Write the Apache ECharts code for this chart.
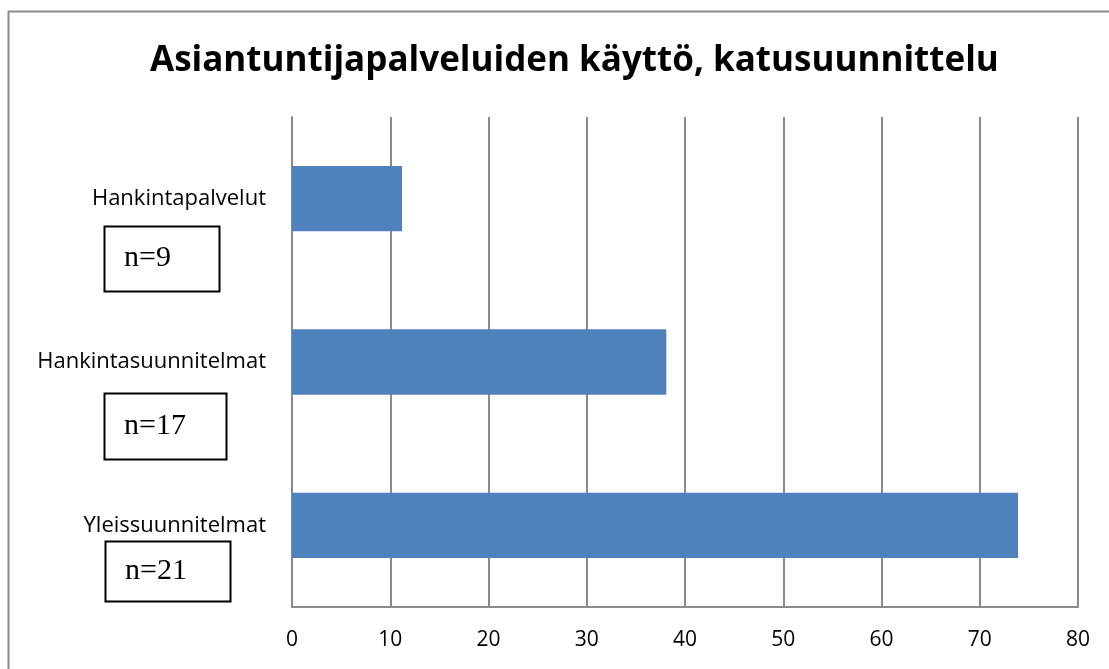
<!DOCTYPE html>
<html>
<head>
<meta charset="utf-8">
<script src="https://cdn.jsdelivr.net/npm/echarts@6/dist/echarts.min.js"></script>
<style>
  html, body { margin: 0; padding: 0; background: #fff; }
  #chart { width: 1109px; height: 669px; }
</style>
</head>
<body>
<div id="chart"></div>
<script>
// data
const categories = ['Hankintapalvelut', 'Hankintasuunnitelmat', 'Yleissuunnitelmat']
const values = [11.2, 38.1, 73.9]
const nLabels = ['n=9', 'n=17', 'n=21']
const xTicks = [0, 10, 20, 30, 40, 50, 60, 70, 80]

const chart = echarts.init(document.getElementById('chart'))

// the small boxes with n= under each label
const boxes = [
  { x: 104, y: 226, w: 115, h: 65 },
  { x: 104, y: 393, w: 122, h: 66 },
  { x: 105, y: 541, w: 125, h: 60 },
]

const graphic = [
  {
    type: 'rect',
    shape: { x: 8.5, y: 11.5, width: 1120, height: 700 },
    style: { fill: 'none', stroke: '#8a8a8a', lineWidth: 2 },
    silent: true,
  },
]
boxes.forEach((b, i) => {
  graphic.push({
    type: 'rect',
    shape: { x: b.x + 0.5, y: b.y + 0.5, width: b.w, height: b.h },
    style: { fill: '#fff', stroke: '#000', lineWidth: 2 },
    silent: true,
  })
  graphic.push({
    type: 'text',
    x: b.x + 20,
    y: b.y + b.h / 2,
    style: {
      text: nLabels[i],
      font: '30px "Liberation Serif", "DejaVu Serif", serif',
      fill: '#000',
      verticalAlign: 'middle',
    },
    silent: true,
  })
})

const option = {
  animation: false,
  title: {
    text: 'Asiantuntijapalveluiden käyttö, katusuunnittelu',
    left: 145,
    top: 39,
    textStyle: {
      fontFamily: '"Open Sans", sans-serif',
      fontWeight: 'bold',
      fontSize: 35,
      color: '#000',
    },
  },
  grid: {
    left: 292,
    right: 31,
    top: 117,
    bottom: 62,
  },
  xAxis: {
    type: 'value',
    min: 0,
    max: 80,
    interval: 10,
    axisLine: { show: true, lineStyle: { color: '#8a8a8a', width: 2 } },
    axisTick: { show: false },
    splitLine: { show: true, lineStyle: { color: '#8a8a8a', width: 2 } },
    axisLabel: {
      margin: 23,
      fontFamily: '"Open Sans", sans-serif',
      fontSize: 21,
      color: '#000',
      formatter: (v) => (xTicks.includes(v) ? String(v) : ''),
    },
  },
  yAxis: {
    type: 'category',
    data: categories,
    inverse: true,
    axisLine: { show: true, lineStyle: { color: '#8a8a8a', width: 2 } },
    axisTick: { show: false },
    axisLabel: {
      margin: 26,
      fontFamily: '"Open Sans", sans-serif',
      fontSize: 22,
      color: '#000',
    },
  },
  series: [
    {
      type: 'bar',
      data: values,
      barCategoryGap: '60%',
      itemStyle: { color: '#4f81bd' },
    },
  ],
  graphic: graphic,
}

chart.setOption(option)
</script>
</body>
</html>
